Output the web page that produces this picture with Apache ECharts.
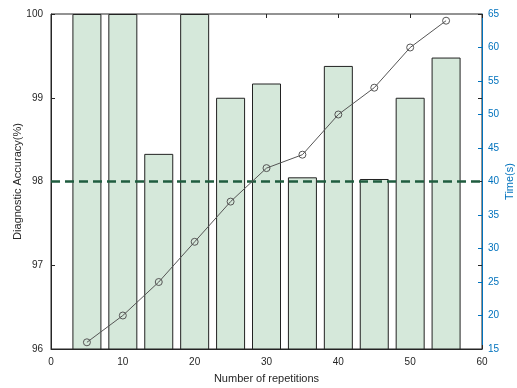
<!DOCTYPE html>
<html>
<head>
	<meta charset="utf-8">
	<script type="text/javascript" src="https://cdn.jsdelivr.net/npm/echarts@6/dist/echarts.min.js"></script>
</head>
<body style="margin:0">
	<div id="main" style="width:517px; height:388px;"></div>
	<script type="text/javascript">
		// repetitions, accuracy (%) and time (s)
		var repetitions = [5, 10, 15, 20, 25, 30, 35, 40, 45, 50, 55];
		var accuracy = [100, 100, 98.33, 100, 99.0, 99.17, 98.05, 99.38, 98.03, 99.0, 99.48];
		var timeSec = [16, 20, 25, 31, 37, 42, 44, 50, 54, 60, 64];
		var refLine = 98;

		var barData = [];
		var lineData = [];
		for (var i = 0; i < repetitions.length; i++) {
			barData.push([repetitions[i], accuracy[i]]);
			lineData.push([repetitions[i], timeSec[i]]);
		}

		var font = 'Liberation Sans, Arial, sans-serif';
		var ink = '#262626';
		var chart = echarts.init(document.getElementById('main'));
		chart.setOption({
			animation: false,
			grid: {
				left: 51, right: 35, top: 14, bottom: 39,
				outerBoundsMode: 'none', containLabel: false,
				show: true, borderColor: ink, borderWidth: 1
			},
			xAxis: [{
				type: 'value', min: 0, max: 60, interval: 10,
				name: 'Number of repetitions', nameLocation: 'middle', nameGap: 24,
				nameMoveOverlap: false,
				nameTextStyle: { fontFamily: font, fontSize: 11, color: ink },
				axisLine: { show: true, onZero: false, lineStyle: { color: ink } },
				axisTick: { show: true, inside: true, length: 4, lineStyle: { color: ink } },
				axisLabel: { fontFamily: font, fontSize: 10, color: ink, margin: 8 },
				splitLine: { show: false }
			}, {
				// mirrored ticks on the top edge of the box
				type: 'value', min: 0, max: 60, interval: 10, position: 'top', offset: 0,
				axisLine: { show: false, onZero: false },
				axisTick: { show: true, inside: true, length: 4, lineStyle: { color: ink } },
				axisLabel: { show: false },
				splitLine: { show: false }
			}],
			yAxis: [{
				type: 'value', min: 96, max: 100, interval: 1, position: 'left',
				name: 'Diagnostic Accuracy(%)', nameLocation: 'middle', nameGap: 28,
				nameMoveOverlap: false,
				nameTextStyle: { fontFamily: font, fontSize: 11, color: ink },
				axisLine: { show: true, onZero: false, lineStyle: { color: ink } },
				axisTick: { show: true, inside: true, length: 4, lineStyle: { color: ink } },
				axisLabel: { fontFamily: font, fontSize: 10, color: ink, margin: 8 },
				splitLine: { show: false }
			}, {
				type: 'value', min: 15, max: 65, interval: 5, position: 'right', offset: 0,
				name: 'Time(s)', nameLocation: 'middle', nameGap: 22,
				nameMoveOverlap: false,
				nameTextStyle: { fontFamily: font, fontSize: 11, color: '#0072BD' },
				axisLine: { show: true, onZero: false, lineStyle: { color: '#0072BD' } },
				axisTick: { show: true, inside: true, length: 4, lineStyle: { color: '#0072BD' } },
				axisLabel: { fontFamily: font, fontSize: 10, color: '#0072BD', margin: 6 },
				splitLine: { show: false }
			}, {
				// mirrored accuracy ticks on the right edge
				type: 'value', min: 96, max: 100, interval: 1, position: 'right', offset: 0,
				axisLine: { show: false, onZero: false },
				axisTick: { show: true, inside: true, length: 4, lineStyle: { color: ink } },
				axisLabel: { show: false },
				splitLine: { show: false }
			}],
			series: [{
				type: 'bar',
				yAxisIndex: 0,
				data: barData,
				barWidth: 29,
				clip: true,
				itemStyle: { color: '#d5e8da', borderColor: '#222', borderWidth: 1 },
				markLine: {
					silent: true, symbol: 'none',
					label: { show: false },
					lineStyle: { color: '#1f5c3f', type: [9, 5], width: 2.5 },
					data: [{ yAxis: refLine }]
				}
			}, {
				type: 'line',
				yAxisIndex: 1,
				data: lineData,
				symbol: 'circle',
				symbolSize: 7,
				itemStyle: { color: 'rgba(0,0,0,0)', borderColor: '#555', borderWidth: 1 },
				lineStyle: { color: '#555', width: 1 },
				z: 5
			}]
		});
	</script>
</body>
</html>
